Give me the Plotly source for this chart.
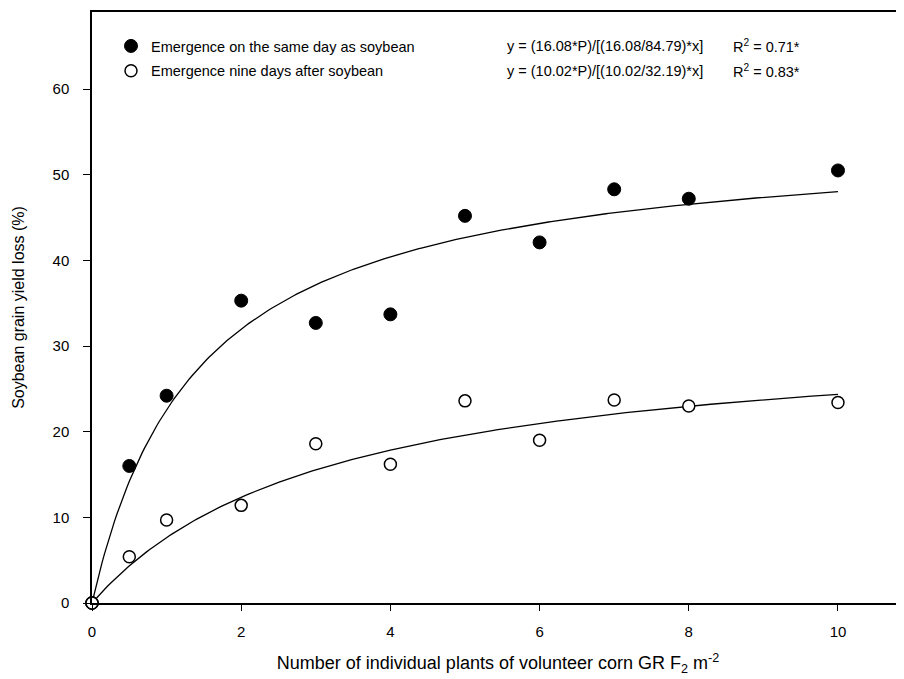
import numpy as np
import plotly.graph_objects as go

# Data
plants = [0, 0.5, 1, 2, 3, 4, 5, 6, 7, 8, 10]
same_day_loss = [0, 16.0, 24.2, 35.3, 32.7, 33.7, 45.2, 42.1, 48.3, 47.2, 50.5]
nine_days_loss = [0, 5.4, 9.7, 11.4, 18.6, 16.2, 23.6, 19.0, 23.7, 23.0, 23.4]

series_names = ["Emergence on the same day as soybean",
                "Emergence nine days after soybean"]
equations = ["y = (16.08*P)/[(16.08/84.79)*x]",
             "y = (10.02*P)/[(10.02/32.19)*x]"]
r2_labels = ["R<sup>2</sup> = 0.71*", "R<sup>2</sup> = 0.83*"]

# rectangular hyperbola parameters (i, a) of the drawn fitted curves
fit_same_day = (38.3, 54.9)
fit_nine_days = (10.02, 32.19)

x_ticks = [0, 2, 4, 6, 8, 10]
y_ticks = [0, 10, 20, 30, 40, 50, 60]


def hyperbola(x, i, a):
    return i * x / (1 + i * x / a)


xc = np.linspace(0, 10, 300)

FONT = "Arial, Liberation Sans, sans-serif"

fig = go.Figure()

fig.add_trace(go.Scatter(x=xc, y=hyperbola(xc, *fit_same_day), mode="lines",
                         line=dict(color="black", width=1.3), showlegend=False,
                         hoverinfo="skip"))
fig.add_trace(go.Scatter(x=xc, y=hyperbola(xc, *fit_nine_days), mode="lines",
                         line=dict(color="black", width=1.3), showlegend=False,
                         hoverinfo="skip"))

fig.add_trace(go.Scatter(x=plants, y=same_day_loss, mode="markers",
                         name=series_names[0], legendgroup="a",
                         marker=dict(symbol="circle", size=13, color="black",
                                     line=dict(color="black", width=1)),
                         cliponaxis=False))
fig.add_trace(go.Scatter(x=plants, y=nine_days_loss, mode="markers",
                         name=series_names[1], legendgroup="b",
                         marker=dict(symbol="circle", size=12, color="white",
                                     line=dict(color="black", width=1.5)),
                         cliponaxis=False))

# page body has an 8px margin; target pixel positions are in window coords
OFF = 8
W, H = 904 - OFF, 679 - OFF
ML, MT, MB, MR = 92 - OFF, 12 - OFF, 76, 0
pw = W - ML - MR
ph = H - MT - MB


def px_x(p):
    return (p - OFF - ML) / pw


def px_y(p):
    return 1 - (p - OFF - MT) / ph


for k, row_y in enumerate([46, 71]):
    fig.add_annotation(x=px_x(505), y=px_y(row_y), xref="paper", yref="paper",
                       text=equations[k], showarrow=False, xanchor="left",
                       yanchor="middle", font=dict(family=FONT, size=14.5, color="black"))
    fig.add_annotation(x=px_x(731), y=px_y(row_y), xref="paper", yref="paper",
                       text=r2_labels[k], showarrow=False, xanchor="left",
                       yanchor="middle", font=dict(family=FONT, size=14.5, color="black"))

fig.update_layout(
    width=W, height=H,
    margin=dict(l=ML, r=MR, t=MT, b=MB),
    paper_bgcolor="white", plot_bgcolor="white",
    font=dict(family=FONT, size=15, color="black"),
    legend=dict(x=px_x(111), y=px_y(30), xanchor="left", yanchor="top",
                font=dict(family=FONT, size=14.5, color="black"),
                bgcolor="rgba(0,0,0,0)", tracegroupgap=3, traceorder="grouped",
                itemsizing="trace"),
    xaxis=dict(range=[0, 10.885], tickvals=x_ticks, ticks="outside", ticklen=6,
               tickwidth=1.3, tickcolor="black", showline=True, linecolor="black",
               linewidth=1.5, mirror=True, showgrid=False, zeroline=False,
               tickfont=dict(family=FONT, size=15), ticklabelstandoff=8,
               title=dict(text="Number of individual plants of volunteer corn GR F<sub>2</sub> m<sup>-2</sup>",
                          font=dict(family=FONT, size=18), standoff=18)),
    yaxis=dict(range=[0, 69], tickvals=y_ticks, ticks="outside", ticklen=7,
               tickwidth=1.3, tickcolor="black", showline=True, linecolor="black",
               linewidth=1.5, mirror=False, showgrid=False, zeroline=False,
               tickfont=dict(family=FONT, size=15), ticklabelstandoff=11,
               title=dict(text="Soybean grain yield loss (%)",
                          font=dict(family=FONT, size=16), standoff=24)),
)

fig.write_html("out.html")
